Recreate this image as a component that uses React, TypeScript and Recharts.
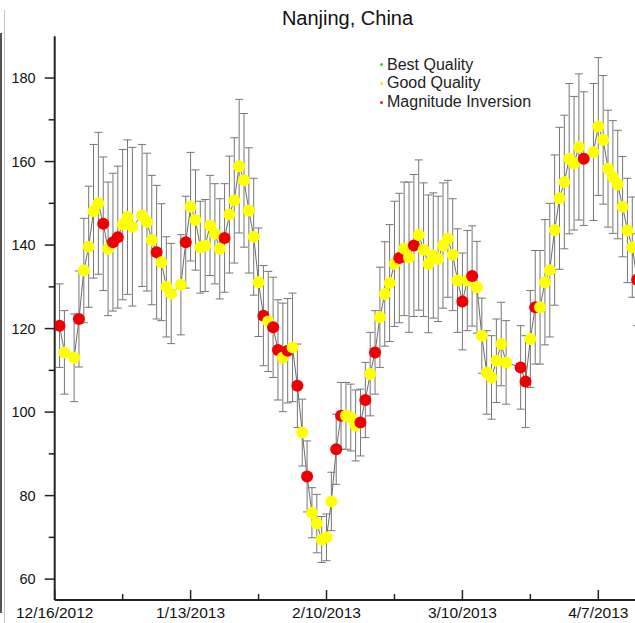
import React from "react";
import { ComposedChart, Line, XAxis, YAxis, ErrorBar, Legend } from "recharts";

// days after 12/16/2012
const days = [
  1, 2, 4, 5, 6, 7, 8, 9, 10, 11, 12, 13, 14, 15, 16, 18, 19, 20, 21, 22,
  23, 24, 26, 27, 28, 29, 30, 31, 32, 33, 34, 35, 36, 37, 38, 39, 40, 41, 42, 43,
  44, 45, 46, 47, 48, 49, 50, 51, 52, 53, 54, 55, 56, 57, 58, 59, 60, 61, 62, 63,
  64, 65, 66, 67, 68, 69, 70, 71, 72, 73, 74, 75, 76, 77, 78, 79, 80, 81, 82, 83,
  84, 85, 86, 87, 88, 89, 90, 91, 92, 93, 96, 97, 98, 99, 100, 101, 102, 103, 104, 105,
  106, 107, 108, 109, 111, 112, 113, 114, 115, 116, 117, 118, 119, 120,
];

const values = [
  120.7, 114.3, 113.0, 122.3, 133.9, 139.6, 148.1, 150.0, 145.1, 139.1, 140.7, 141.9, 144.9, 146.7, 144.4, 147.1, 145.5, 141.2, 138.3, 135.9,
  130.0, 128.4, 130.5, 140.7, 149.2, 146.0, 139.5, 139.9, 144.7, 142.7, 139.1, 141.7, 147.3, 150.7, 158.9, 155.5, 148.3, 142.0, 131.1, 123.1,
  121.7, 120.3, 114.9, 113.1, 114.7, 115.5, 106.3, 95.1, 84.6, 75.9, 73.3, 69.5, 70.0, 78.6, 91.1, 99.1, 99.1, 98.7, 96.8, 97.5,
  102.9, 109.1, 114.3, 122.7, 128.3, 130.9, 135.5, 136.9, 139.1, 137.1, 139.9, 142.4, 138.9, 135.5, 137.5, 136.7, 139.9, 141.5, 137.7, 131.5,
  126.5, 131.5, 132.6, 129.9, 118.3, 109.5, 108.3, 112.3, 116.3, 111.9, 110.7, 107.3, 117.5, 125.1, 125.1, 131.1, 134.0, 143.6, 151.2, 155.1,
  160.7, 159.6, 163.5, 160.7, 162.3, 168.4, 165.2, 158.3, 156.3, 154.5, 149.2, 143.5, 139.5, 131.7,
];

const errors = [
  10, 10, 10.5, 11.5, 12.5, 14.5, 16, 17, 16, 16, 16.5, 17, 18, 18.5, 19, 17, 16.5, 15.5, 16, 14,
  12, 12, 12, 11, 13, 12, 11, 11, 12, 12, 12, 13, 14, 15, 16, 16, 15, 14, 13, 12,
  12, 12, 12, 13, 12.5, 13, 10, 8, 8.5, 6, 7, 5.5, 5.6, 7, 8.4, 8, 8, 8, 8.5, 8,
  9, 10, 10, 12, 12.5, 14, 15, 15.5, 16, 18, 17, 18, 16, 16.5, 15, 15, 15, 14, 13.4, 12.4,
  11.6, 12, 12, 11, 9, 10, 10, 10, 10, 10, 10, 11, 11.6, 13.6, 13.6, 15, 16, 18, 17, 16,
  18, 16, 17.5, 16, 16.4, 16.5, 15.4, 14, 13.5, 13, 12, 12.5, 12, 11,
];

// G = good quality, M = magnitude inversion
const quality = [
  "M", "G", "G", "M", "G", "G", "G", "G", "M", "G", "M", "M", "G", "G", "G", "G", "G", "G", "M", "G",
  "G", "G", "G", "M", "G", "G", "G", "G", "G", "G", "G", "M", "G", "G", "G", "G", "G", "G", "G", "M",
  "G", "M", "M", "G", "M", "G", "M", "G", "M", "G", "G", "G", "G", "G", "M", "M", "G", "G", "G", "M",
  "M", "G", "M", "G", "G", "G", "G", "M", "G", "G", "M", "G", "G", "G", "G", "G", "G", "G", "G", "G",
  "M", "G", "M", "G", "G", "G", "G", "G", "G", "G", "M", "M", "G", "M", "G", "G", "G", "G", "G", "G",
  "G", "G", "G", "M", "G", "G", "G", "G", "G", "G", "G", "G", "G", "M",
];

const xTicks = [0, 14, 28, 42, 56, 70, 84, 98, 112];
const xTickLabels = ["12/16/2012", "", "1/13/2013", "", "2/10/2013", "", "3/10/2013", "", "4/7/2013"];
const yTicks = [60, 70, 80, 90, 100, 110, 120, 130, 140, 150, 160, 170, 180];
const yLabelTicks = [60, 80, 100, 120, 140, 160, 180];

const legendItems = [
  { label: "Best Quality", color: "#36c936" },
  { label: "Good Quality", color: "#ffe41c" },
  { label: "Magnitude Inversion", color: "#e61e1e" },
];

const markerColor: Record<string, string> = { G: "#FFFF00", M: "#EE0000" };

const FONT = "'Liberation Sans', Arial, sans-serif";
const AXIS = "#222";

const rows = days.map((d, i) => ({ day: d, value: values[i], err: errors[i], q: quality[i] }));

const BottomTick = (props: any) => {
  const { x, y, payload } = props;
  const label = xTickLabels[xTicks.indexOf(payload.value)];
  const major = !!label;
  return (
    <g>
      <line x1={x} x2={x} y1={y} y2={y - (major ? 10 : 6)} stroke={AXIS} strokeWidth={1.5} />
      {major && (
        <text x={x} y={y + 18} textAnchor="middle" fontSize={15.5} fontFamily={FONT} fill="#111">
          {label}
        </text>
      )}
    </g>
  );
};

const TopTick = (props: any) => {
  const { x, y, payload } = props;
  const major = !!xTickLabels[xTicks.indexOf(payload.value)];
  return <line x1={x} x2={x} y1={y} y2={y + (major ? 10 : 6)} stroke={AXIS} strokeWidth={1.5} />;
};

const LeftTick = (props: any) => {
  const { x, y, payload } = props;
  const major = yLabelTicks.includes(payload.value);
  return (
    <g>
      <line x1={x} x2={x - (major ? 10 : 6)} y1={y} y2={y} stroke={AXIS} strokeWidth={1.5} />
      {major && (
        <text x={x - 19} y={y} dy="0.36em" textAnchor="end" fontSize={14.5} fontFamily={FONT} fill="#111">
          {payload.value}
        </text>
      )}
    </g>
  );
};

const RightTick = (props: any) => {
  const { x, y, payload } = props;
  const major = yLabelTicks.includes(payload.value);
  return <line x1={x} x2={x - (major ? 10 : 6)} y1={y} y2={y} stroke={AXIS} strokeWidth={1.5} />;
};

const Marker = (props: any) => {
  const { cx, cy, payload, index } = props;
  if (cx == null || cy == null) return null;
  return <circle key={`m${index}`} cx={cx} cy={cy} r={6} fill={markerColor[payload.q]} stroke="none" />;
};

const LegendBox = () => (
  <div style={{ fontFamily: FONT, fontSize: 16, color: "#222", lineHeight: "18.8px" }}>
    {legendItems.map((item) => (
      <div key={item.label} style={{ display: "flex", alignItems: "center", whiteSpace: "nowrap" }}>
        <span
          style={{
            display: "inline-block",
            width: 3,
            height: 3,
            borderRadius: "50%",
            background: item.color,
            marginRight: 4,
          }}
        />
        {item.label}
      </div>
    ))}
  </div>
);

export default function App() {
  return (
    <div
      style={{
        position: "fixed",
        top: 0,
        left: 0,
        width: 635,
        height: 623,
        overflow: "hidden",
        background: "#fff",
      }}
    >
      {/* bits of the neighbouring panel at the left edge */}
      <div style={{ position: "absolute", left: 4, top: 10, width: 1, height: 613, background: "#c4c4c4" }} />
      <div style={{ position: "absolute", left: 0, top: 33, width: 2, height: 580, background: "#555" }} />

      <div
        style={{
          position: "absolute",
          top: 8,
          left: 0,
          width: 695,
          textAlign: "center",
          fontFamily: FONT,
          fontSize: 20,
          lineHeight: "20px",
          color: "#111",
        }}
      >
        Nanjing, China
      </div>

      <ComposedChart
        width={660}
        height={623}
        data={rows}
        margin={{ top: 36.3, right: 18, bottom: 0, left: 0.7 }}
      >
        <XAxis
          dataKey="day"
          type="number"
          domain={[0, 121]}
          allowDataOverflow
          ticks={xTicks}
          interval={0}
          height={23}
          tickSize={0}
          tickMargin={0}
          tickLine={false}
          tick={<BottomTick />}
          axisLine={{ stroke: AXIS, strokeWidth: 2 }}
        />
        <XAxis
          xAxisId="top"
          orientation="top"
          dataKey="day"
          type="number"
          domain={[0, 121]}
          allowDataOverflow
          ticks={xTicks}
          interval={0}
          height={0}
          tickSize={0}
          tickMargin={0}
          tickLine={false}
          tick={<TopTick />}
          axisLine={{ stroke: AXIS, strokeWidth: 2 }}
        />
        <YAxis
          type="number"
          domain={[55, 190]}
          allowDataOverflow
          ticks={yTicks}
          interval={0}
          width={54}
          tickSize={0}
          tickMargin={0}
          tickLine={false}
          tick={<LeftTick />}
          axisLine={{ stroke: AXIS, strokeWidth: 2 }}
        />
        <YAxis
          yAxisId="right"
          orientation="right"
          type="number"
          domain={[55, 190]}
          allowDataOverflow
          ticks={yTicks}
          interval={0}
          width={0}
          tickSize={0}
          tickMargin={0}
          tickLine={false}
          tick={<RightTick />}
          axisLine={{ stroke: AXIS, strokeWidth: 2 }}
        />
        <Legend
          layout="vertical"
          align="center"
          verticalAlign="middle"
          content={() => <LegendBox />}
          wrapperStyle={{ left: 380, top: 55.6, width: "auto", height: "auto" }}
        />
        <Line
          dataKey="value"
          type="linear"
          stroke="#6b6b6b"
          strokeWidth={1}
          dot={Marker}
          activeDot={false}
          isAnimationActive={false}
        >
          <ErrorBar dataKey="err" direction="y" width={4} stroke="#767676" strokeWidth={1} isAnimationActive={false} />
        </Line>
      </ComposedChart>
    </div>
  );
}
